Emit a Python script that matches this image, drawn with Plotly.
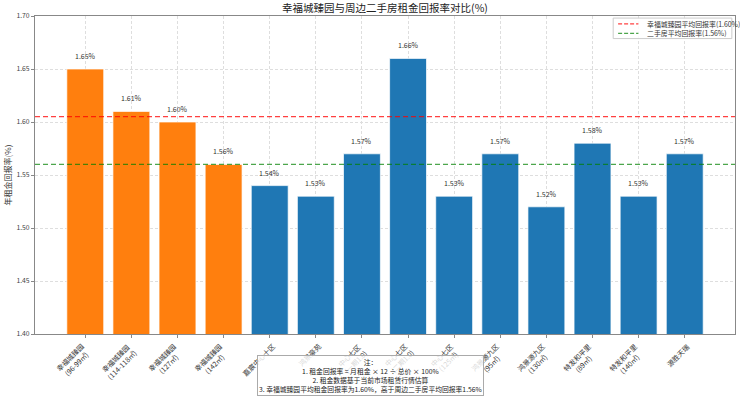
import plotly.graph_objects as go

categories = [
    "幸福城臻园<br>(96-99㎡)", "幸福城臻园<br>(114-118㎡)", "幸福城臻园<br>(127㎡)", "幸福城臻园<br>(142㎡)",
    "嘉宸中心十区", "鸿景豪苑", "中心七区<br>(一期1.0)", "中心七区<br>(二期1.0)", "中心七区<br>(125㎡)",
    "鸿景源九区<br>(95㎡)", "鸿景源九区<br>(130㎡)", "特发和平里<br>(89㎡)", "特发和平里<br>(140㎡)", "源胜天瑞",
]
values = [1.65, 1.61, 1.60, 1.56, 1.54, 1.53, 1.57, 1.66, 1.53, 1.57, 1.52, 1.58, 1.53, 1.57]
is_target = [True, True, True, True] + [False] * 10
target_avg = 1.605
second_avg = 1.56
legend_names = ["幸福城臻园平均回报率(1.60%)", "二手房平均回报率(1.56%)"]
y_ticks = [1.40, 1.45, 1.50, 1.55, 1.60, 1.65, 1.70]

ORANGE = "#ff7f0e"
BLUE = "#1f77b4"
RED = "rgba(255,0,0,0.75)"
GREEN = "rgba(0,128,0,0.7)"
FONT = "Noto Sans CJK SC, Noto Sans, sans-serif"

fig = go.Figure()
fig.add_trace(go.Bar(
    x=list(range(len(categories))), y=values, width=0.8,
    marker=dict(color=[ORANGE if t else BLUE for t in is_target],
                line=dict(color="rgba(255,255,255,0.7)", width=1)),
    showlegend=False, hoverinfo="skip",
))

# value labels
for i, v in enumerate(values):
    fig.add_annotation(x=i, y=v, text=f"{v:.2f}%", showarrow=False,
                       yanchor="bottom", yshift=6,
                       font=dict(size=7, color="#333", family=FONT))

# rotated category labels
for i, c in enumerate(categories):
    fig.add_annotation(x=i, y=0, xref="x", yref="paper", text=c, showarrow=False,
                       textangle=-45, xanchor="right", yanchor="top",
                       xshift=10, yshift=-5, align="center",
                       font=dict(size=7, color="#333", family=FONT))

# average lines
for val, col in [(target_avg, RED), (second_avg, GREEN)]:
    fig.add_shape(type="line", xref="paper", x0=0, x1=1, yref="y", y0=val, y1=val,
                  line=dict(color=col, width=1.3, dash="5px,3px"))

# legend (drawn manually for compact matplotlib-like look)
lx0, lx1, ly0, ly1 = 0.826, 0.9955, 0.929, 0.9935
fig.add_shape(type="rect", xref="paper", yref="paper", x0=lx0, x1=lx1, y0=ly0, y1=ly1,
              line=dict(color="#cccccc", width=1), fillcolor="rgba(255,255,255,0.85)")
for k, (name, col) in enumerate(zip(legend_names, [RED, GREEN])):
    yy = 0.9755 - k * 0.030
    fig.add_shape(type="line", xref="paper", yref="paper", x0=lx0 + 0.007, x1=lx0 + 0.036,
                  y0=yy, y1=yy, line=dict(color=col, width=1.3, dash="4px,2px"))
    fig.add_annotation(xref="paper", yref="paper", x=lx0 + 0.046, y=yy, text=name,
                       showarrow=False, xanchor="left", yanchor="middle",
                       font=dict(size=6.9, color="#333", family=FONT))

# note box
fig.add_annotation(
    xref="paper", yref="paper", x=0.479, y=-0.1296, showarrow=False,
    xanchor="center", yanchor="middle",
    text=("注：<br>1. 租金回报率 = 月租金 × 12 ÷ 总价 × 100%<br>2. 租金数据基于当前市场租赁行情估算"
          "<br>3. 幸福城臻园平均租金回报率为1.60%，高于周边二手房平均回报率1.56%"),
    align="center", font=dict(size=6.8, color="#222", family=FONT),
    bgcolor="rgba(255,255,255,0.8)", bordercolor="#aaa", borderwidth=1, borderpad=1,
)

fig.update_layout(
    width=740, height=397,
    margin=dict(l=35, r=5, t=16, b=63),
    paper_bgcolor="white", plot_bgcolor="white",
    font=dict(family=FONT, size=8, color="#333"),
    title=dict(text="幸福城臻园与周边二手房租金回报率对比(%)", x=0.5, xanchor="center",
               xref="paper", y=0.98, yanchor="middle", font=dict(size=10.5, color="#222", family=FONT)),
    showlegend=False,
)
fig.update_xaxes(
    range=[-1.09, len(categories) - 1 + 1.09],
    tickvals=list(range(len(categories))), showticklabels=False, automargin=False,
    showgrid=True, gridcolor="#dedede", griddash="3px,2px", gridwidth=0.6,
    showline=True, linecolor="#888", linewidth=1, mirror=True,
    ticks="outside", ticklen=3, tickcolor="#888", zeroline=False,
)
fig.update_yaxes(
    range=[1.40, 1.70], tickvals=y_ticks, tickformat=".2f", automargin=False,
    tickfont=dict(size=6.8, color="#444", family=FONT),
    title=dict(text="年租金回报率(%)", font=dict(size=8, color="#333", family=FONT), standoff=3),
    showgrid=True, gridcolor="#dedede", griddash="3px,2px", gridwidth=0.6,
    showline=True, linecolor="#888", linewidth=1, mirror=True,
    ticks="outside", ticklen=3, tickcolor="#888", zeroline=False,
)

fig.write_html("out.html", config={"displayModeBar": False},
               post_script="document.body.style.margin='0';document.body.style.overflow='hidden';")
